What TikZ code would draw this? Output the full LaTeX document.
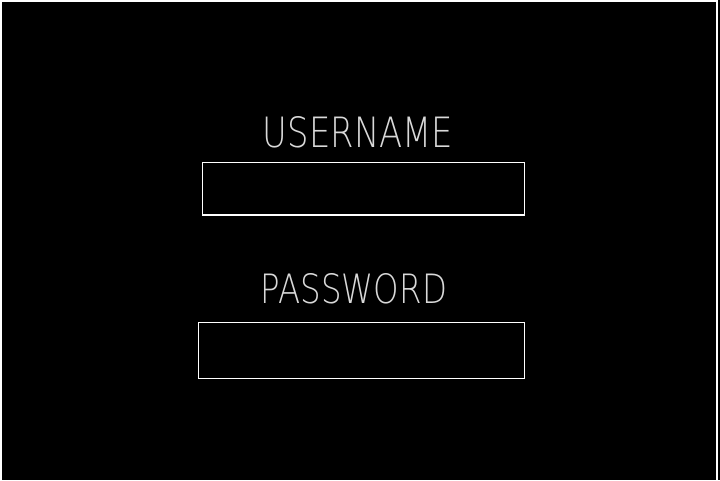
\documentclass[tikz,border=0pt]{standalone}
\usepackage{fontspec}
\IfFontExistsTF{DejaVu Sans ExtraLight}{\newfontfamily\thinfont{DejaVu Sans ExtraLight}}{%
 \IfFontExistsTF{Fira Sans Light}{\newfontfamily\thinfont{Fira Sans Light}}{%
  \IfFontExistsTF{Lato Light}{\newfontfamily\thinfont{Lato Light}}{%
   \IfFontExistsTF{Open Sans Light}{\newfontfamily\thinfont{Open Sans Light}}{%
    \newfontfamily\thinfont{Liberation Sans}}}}}
\begin{document}
\begin{tikzpicture}[x=1pt,y=-1pt,
  field/.style={draw=white,line width=1.2pt},
  label/.style={inner sep=0pt,anchor=south,text=white!85!black}]
\useasboundingbox (0,0) rectangle (720,480);
\fill[black] (0,0) rectangle (720,480);
\draw[white,line width=1.5pt] (0.75,481) -- (0.75,0.75) -- (717,0.75) -- (717,481);
\node[label] (user) at (358,148) {\resizebox{190pt}{31pt}{\thinfont USERNAME}};
\draw[field] (202.5,162.5) rectangle (524.5,215) coordinate (userboxse);
\node[label] (pass) at (354,304) {\resizebox{186pt}{30pt}{\thinfont PASSWORD}};
\draw[field] (198.5,322.5) rectangle (524.5,378.5) coordinate (passboxse);
\end{tikzpicture}
\end{document}
